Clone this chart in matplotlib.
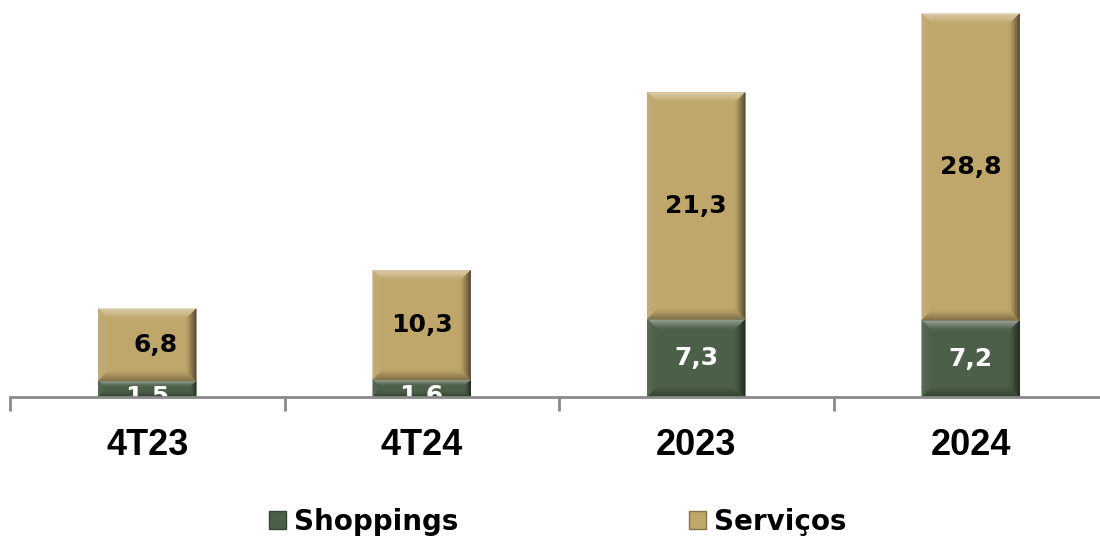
import matplotlib
matplotlib.use('Agg')
import matplotlib.pyplot as plt
from matplotlib.patches import Polygon, Patch

import numpy

# Periods on the x axis and the two stacked series (R$ milhões)
CATEGORIES = ['4T23', '4T24', '2023', '2024']
SHOPPINGS = [1.5, 1.6, 7.3, 7.2]
SERVICOS = [6.8, 10.3, 21.3, 28.8]
SERIES_NAMES = ['Shoppings', 'Serviços']

GREEN = '#4c5f48'
TAN = '#bfa76b'
LABEL_FONT = ['DejaVu Sans']
TICK_FONT = ['Liberation Sans Narrow', 'Liberation Sans', 'DejaVu Sans']

BEVEL_PX = 10
BEVEL_STEPS = 6

# edge shade factors: top, left, right, bottom
EDGE_SHADES = [1.45, 1.08, 0.42, 0.65]


def shade(color, factor):
    rgb = numpy.array(matplotlib.colors.to_rgb(color))
    if factor >= 1:
        rgb = rgb + (1 - rgb) * (factor - 1)
    else:
        rgb = rgb * factor
    return tuple(numpy.clip(rgb, 0, 1))


def mix(c1, c2, t):
    return tuple(numpy.array(c1) * (1 - t) + numpy.array(matplotlib.colors.to_rgb(c2)) * t)


# Draws the raised-edge look on top of a bar rectangle, fading from edge to face.
def bevel(ax, rect, color):
    x0, y0 = rect.get_x(), rect.get_y()
    w, h = rect.get_width(), rect.get_height()
    (px0, py0), (px1, py1) = ax.transData.transform([(x0, y0), (x0 + w, y0 + h)])
    bpx = min(BEVEL_PX, (py1 - py0) / 3.0)
    dx = bpx * w / (px1 - px0)
    dy = bpx * h / (py1 - py0)
    for k in range(BEVEL_STEPS):
        a = k / BEVEL_STEPS
        b = (k + 1) / BEVEL_STEPS
        ox0, ox1 = x0 + dx * a, x0 + w - dx * a
        oy0, oy1 = y0 + dy * a, y0 + h - dy * a
        ix0, ix1 = x0 + dx * b, x0 + w - dx * b
        iy0, iy1 = y0 + dy * b, y0 + h - dy * b
        t = (k + 0.5) / BEVEL_STEPS
        sides = [
            [(ox0, oy1), (ox1, oy1), (ix1, iy1), (ix0, iy1)],
            [(ox0, oy0), (ox0, oy1), (ix0, iy1), (ix0, iy0)],
            [(ox1, oy0), (ox1, oy1), (ix1, iy1), (ix1, iy0)],
            [(ox0, oy0), (ox1, oy0), (ix1, iy0), (ix0, iy0)],
        ]
        for pts, f in zip(sides, EDGE_SHADES):
            c = mix(shade(color, f), color, t)
            ax.add_patch(Polygon(pts, closed=True, facecolor=c, edgecolor=c,
                                 linewidth=0.3, zorder=3))


fig = plt.figure(figsize=(11, 5.38), dpi=100)
ax = fig.add_axes([10 / 1100, 141 / 538, 1098 / 1100, 393 / 538])

x = numpy.arange(len(CATEGORIES))
width = 0.357
bars_s = ax.bar(x, SHOPPINGS, width, color=GREEN, zorder=2)
bars_v = ax.bar(x, SERVICOS, width, bottom=SHOPPINGS, color=TAN, zorder=2)

ax.set_xlim(-0.5, len(CATEGORIES) - 0.5)
ax.set_ylim(0, 36.9)

for rect in bars_s:
    bevel(ax, rect, GREEN)
for rect in bars_v:
    bevel(ax, rect, TAN)

# Value labels centred on each segment; short segments push the label down
for i in range(len(CATEGORIES)):
    drop = -8 if SHOPPINGS[i] < 3 else 0
    ax.annotate(f'{SHOPPINGS[i]:.1f}'.replace('.', ','), (x[i], SHOPPINGS[i] / 2),
                xytext=(0, drop), textcoords='offset pixels',
                ha='center', va='center', color='white', fontsize=18,
                fontweight='bold', family=LABEL_FONT, zorder=4,
                annotation_clip=False).set_clip_on(True)
    ax.annotate(f'{SERVICOS[i]:.1f}'.replace('.', ','),
                (x[i], SHOPPINGS[i] + SERVICOS[i] / 2),
                xytext=(8 if i == 0 else 0, 0), textcoords='offset pixels',
                ha='center', va='center', color='black', fontsize=18,
                fontweight='bold', family=LABEL_FONT, zorder=4)

for side in ['top', 'right', 'left']:
    ax.spines[side].set_visible(False)
ax.spines['bottom'].set_color('#8a8a8a')
ax.spines['bottom'].set_linewidth(2)
ax.spines['bottom'].set_zorder(5)
ax.set_yticks([])

ax.set_xticks(x)
ax.set_xticklabels(CATEGORIES, fontsize=26, fontweight='bold', family=TICK_FONT)
ax.tick_params(axis='x', which='major', length=0, pad=22)
ax.set_xticks(numpy.arange(len(CATEGORIES) + 1) - 0.5, minor=True)
ax.tick_params(axis='x', which='minor', length=10, width=2, color='#8a8a8a')

handles = [Patch(facecolor=GREEN, edgecolor=shade(GREEN, 0.7)),
           Patch(facecolor=TAN, edgecolor=shade(TAN, 0.7))]
fig.legend(handles, SERIES_NAMES, loc='center', bbox_to_anchor=(558 / 1100, 1 - 522 / 538),
           ncol=2, frameon=False, handlelength=0.6, handleheight=0.6,
           handletextpad=0.3, columnspacing=8.3,
           prop={'family': LABEL_FONT, 'weight': 'bold', 'size': 20})

fig.savefig('out.png', dpi=100)
